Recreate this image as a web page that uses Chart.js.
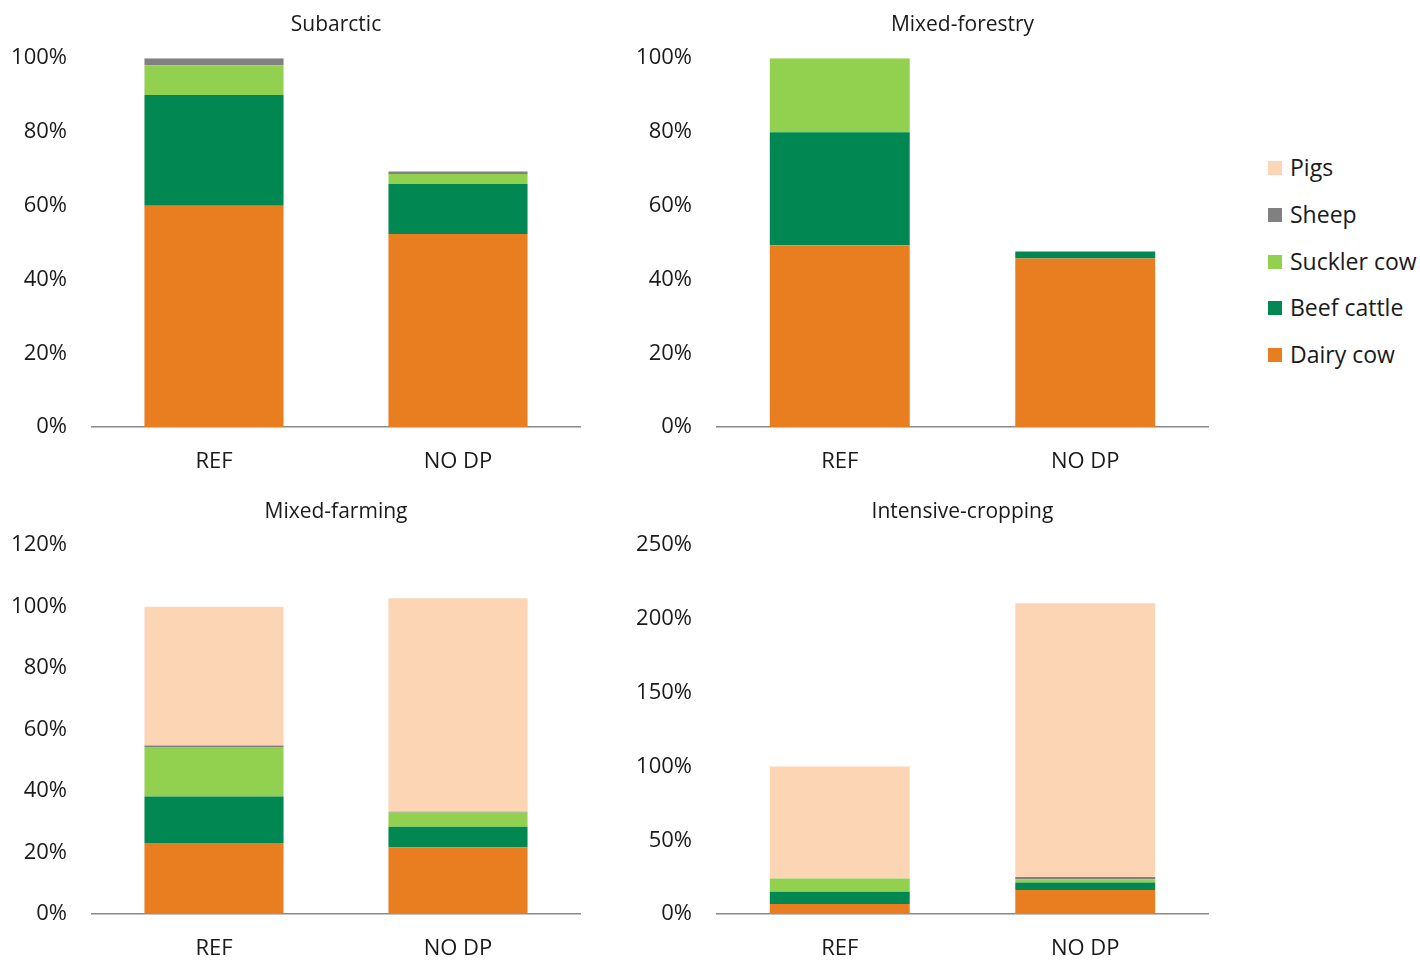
<!DOCTYPE html>
<html>
<head>
<meta charset="utf-8">
<script src="https://cdn.jsdelivr.net/npm/chart.js@4.4.1/dist/chart.umd.min.js"></script>
<style>
  html, body { margin:0; padding:0; background:#fff; overflow:hidden; width:1420px; height:960px; }
  .panel { position:absolute; }
  #legend { position:absolute; left:1268px; top:151px; font-family:"Open Sans", sans-serif; font-size:23px; color:#1a1a1a; }
  #legend .item { height:46.8px; display:flex; align-items:flex-start; white-space:nowrap; }
  #legend .sw { width:14px; height:14px; margin-right:8px; margin-top:10px; flex:none; }
</style>
</head>
<body>
<div class="panel" style="left:0;top:0;width:620px;height:480px;"><canvas id="c0"></canvas></div>
<div class="panel" style="left:625px;top:0;width:600px;height:480px;"><canvas id="c1"></canvas></div>
<div class="panel" style="left:0;top:487px;width:620px;height:480px;"><canvas id="c2"></canvas></div>
<div class="panel" style="left:625px;top:487px;width:600px;height:480px;"><canvas id="c3"></canvas></div>
<div id="legend"></div>
<script>
// ---- data ----
const categories = ["REF", "NO DP"];
const regions = ["Subarctic", "Mixed-forestry", "Mixed-farming", "Intensive-cropping"];
const seriesNames = ["Dairy cow", "Beef cattle", "Suckler cow", "Sheep", "Pigs"];
const seriesColors = ["#E87E20", "#008752", "#92D050", "#808080", "#FCD5B5"];
// values per region: [REF, NO DP] in %
const dairyCow   = [[60.0, 52.3], [49.3, 45.7], [23.1, 21.7], [6.8, 16.3]];
const beefCattle = [[30.0, 13.6], [30.6, 1.9],  [15.1, 6.7],  [8.3, 5.0]];
const sucklerCow = [[8.1, 2.7],   [20.1, 0.0],  [16.1, 4.6],  [8.9, 2.2]];
const sheep      = [[1.9, 0.7],   [0.0, 0.0],   [0.5, 0.3],   [0.0, 1.6]];
const pigs       = [[0.0, 0.0],   [0.0, 0.0],   [45.2, 69.4], [76.0, 185.5]];
const yMax  = [100, 100, 120, 250];
const yStep = [20, 20, 20, 50];

const allSeries = [dairyCow, beefCattle, sucklerCow, sheep, pigs];
const FONT = "'Open Sans', sans-serif";
const TXT = "#1a1a1a";

regions.forEach((region, r) => {
  const canvas = document.getElementById("c" + r);
  const datasets = seriesNames.map((name, s) => ({
    label: name,
    data: allSeries[s][r],
    backgroundColor: seriesColors[s],
    borderWidth: 0,
    categoryPercentage: 1.0,
    barPercentage: 0.57
  }));
  new Chart(canvas, {
    type: "bar",
    data: { labels: categories, datasets },
    options: {
      responsive: true,
      maintainAspectRatio: false,
      animation: false,
      layout: { padding: { top: 0, right: r % 2 === 0 ? 40 : 17, left: 0, bottom: 0 } },
      plugins: {
        legend: { display: false },
        tooltip: { enabled: false },
        title: {
          display: true,
          fullSize: false,
          text: region,
          color: TXT,
          font: { family: FONT, size: 21, weight: "normal", lineHeight: 1.2 },
          padding: { top: 12, bottom: 21 }
        }
      },
      scales: {
        x: {
          stacked: true,
          grid: { display: false, drawTicks: false },
          border: { display: true, color: "#898989", width: 1.5 },
          ticks: { color: TXT, font: { family: FONT, size: 22 }, padding: 22 },
          afterFit: (s) => { s.height = 53; }
        },
        y: {
          stacked: true,
          min: 0,
          max: yMax[r],
          grid: { display: false, drawTicks: false },
          border: { display: false },
          ticks: {
            stepSize: yStep[r],
            color: TXT,
            font: { family: FONT, size: 22 },
            padding: 25,
            callback: (v) => v + "%"
          },
          afterFit: (s) => { s.width = 92; }
        }
      }
    }
  });
});

// ---- legend (top-to-bottom: reverse stack order) ----
const legend = document.getElementById("legend");
for (let s = seriesNames.length - 1; s >= 0; s--) {
  const item = document.createElement("div");
  item.className = "item";
  const sw = document.createElement("span");
  sw.className = "sw";
  sw.style.background = seriesColors[s];
  const t = document.createElement("span");
  t.textContent = seriesNames[s];
  item.appendChild(sw);
  item.appendChild(t);
  legend.appendChild(item);
}
</script>
</body>
</html>
